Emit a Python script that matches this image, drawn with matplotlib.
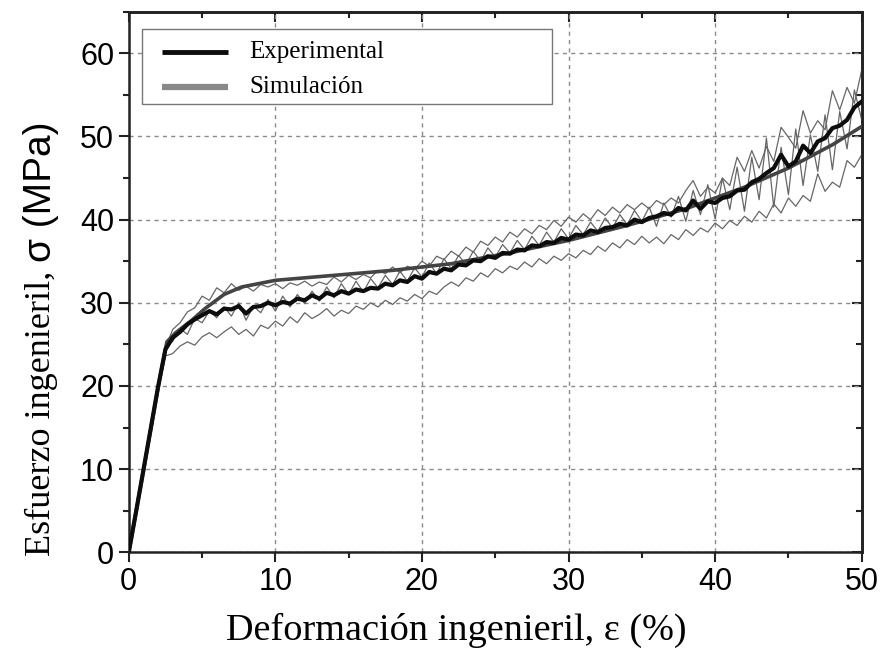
import matplotlib
matplotlib.use("Agg")
import matplotlib.pyplot as plt
from matplotlib.patches import Rectangle

# strain grid (%) for the measured curves
strain = [0.0, 0.5, 1.0, 1.5, 2.0, 2.5, 3.0, 3.5, 4.0, 4.5,
          5.0, 5.5, 6.0, 6.5, 7.0, 7.5, 8.0, 8.5, 9.0, 9.5,
          10.0, 10.5, 11.0, 11.5, 12.0, 12.5, 13.0, 13.5, 14.0, 14.5,
          15.0, 15.5, 16.0, 16.5, 17.0, 17.5, 18.0, 18.5, 19.0, 19.5,
          20.0, 20.5, 21.0, 21.5, 22.0, 22.5, 23.0, 23.5, 24.0, 24.5,
          25.0, 25.5, 26.0, 26.5, 27.0, 27.5, 28.0, 28.5, 29.0, 29.5,
          30.0, 30.5, 31.0, 31.5, 32.0, 32.5, 33.0, 33.5, 34.0, 34.5,
          35.0, 35.5, 36.0, 36.5, 37.0, 37.5, 38.0, 38.5, 39.0, 39.5,
          40.0, 40.5, 41.0, 41.5, 42.0, 42.5, 43.0, 43.5, 44.0, 44.5,
          45.0, 45.5, 46.0, 46.5, 47.0, 47.5, 48.0, 48.5, 49.0, 49.5,
          50.0]

# mean experimental curve (MPa)
exp_mean = [0.0, 4.9, 9.9, 14.9, 19.9, 24.4, 25.8, 26.5, 27.4, 28.0,
            28.5, 29.0, 28.6, 29.3, 29.2, 29.6, 28.7, 29.5, 29.6, 30.0,
            29.7, 30.1, 29.9, 30.5, 30.3, 30.9, 30.5, 31.2, 30.9, 31.4,
            31.1, 31.6, 31.4, 31.8, 31.7, 32.3, 32.1, 32.7, 32.5, 33.2,
            32.9, 33.7, 33.5, 34.1, 33.9, 34.6, 34.5, 35.1, 35.0, 35.6,
            35.4, 36.0, 35.9, 36.4, 36.3, 36.9, 36.8, 37.3, 37.2, 37.8,
            37.6, 38.2, 38.1, 38.7, 38.5, 39.0, 39.1, 39.5, 39.3, 40.0,
            39.7, 40.2, 40.4, 40.8, 40.6, 41.4, 41.1, 42.3, 41.3, 42.2,
            42.0, 42.6, 42.8, 43.5, 43.6, 44.5, 44.9, 45.6, 46.2, 47.8,
            46.4, 47.0, 48.9, 48.0, 49.4, 49.8, 51.0, 51.3, 52.0, 53.5,
            54.2]

# individual specimens (thin lines)
spec_a = [0.0, 4.8, 9.8, 14.8, 19.8, 24.6, 26.8, 27.6, 28.9, 29.4,
          30.8, 30.3, 31.8, 31.2, 32.3, 31.5, 32.0, 31.4, 32.2, 31.9,
          32.3, 31.7, 32.4, 32.1, 32.6, 32.0, 32.5, 32.2, 33.1, 32.5,
          33.3, 32.8, 33.4, 33.0, 33.9, 33.5, 34.3, 33.6, 34.4, 34.0,
          35.0, 34.4, 35.6, 35.2, 36.2, 35.6, 36.7, 36.1, 37.4, 36.9,
          37.9, 37.3, 38.5, 37.9, 38.9, 38.3, 39.3, 38.8, 39.9, 39.2,
          40.3, 39.7, 40.7, 40.0, 41.2, 40.5, 41.5, 40.8, 41.8, 41.2,
          42.0, 41.3, 42.3, 41.8, 42.6, 42.0, 43.5, 44.7, 42.8, 43.9,
          43.2, 45.0, 44.1, 47.5, 45.8, 48.3, 46.2, 48.8, 47.0, 51.1,
          49.9, 48.6, 53.1, 50.4, 51.9, 50.8, 55.5, 53.2, 55.9, 54.0,
          58.0]

spec_b = [0.0, 4.8, 9.7, 14.6, 19.5, 23.6, 23.9, 24.8, 25.3, 24.9,
          25.9, 26.4, 25.8, 26.5, 27.1, 26.2, 26.8, 26.0, 27.3, 26.9,
          27.8, 27.2, 28.3, 27.6, 28.8, 28.1, 28.6, 29.3, 28.4, 29.1,
          28.7, 29.6, 29.2, 30.0, 29.5, 30.3, 29.8, 30.6, 30.2, 31.0,
          30.5, 31.4, 31.0, 31.9, 32.5, 32.0, 33.0, 32.6, 33.6, 33.1,
          34.1, 33.6, 34.4, 34.0, 34.9, 34.3, 35.3, 34.7, 35.6, 35.1,
          35.9, 35.4, 36.3, 35.8, 36.8, 36.2, 37.2, 36.6, 37.6, 37.0,
          38.0, 37.2, 37.9, 37.1, 38.2, 37.6, 38.8, 38.1, 39.0, 38.5,
          39.6, 38.9, 39.9, 39.3, 40.4, 39.7, 41.0, 40.2, 41.9, 40.8,
          42.6, 41.6, 42.9, 42.2, 45.5, 43.4, 44.5, 43.9, 47.1, 46.3,
          47.8]

spec_c = [0.0, 5.0, 10.0, 15.1, 20.1, 24.9, 25.4, 26.9, 26.2, 28.1,
          27.6, 29.0, 28.2, 29.5, 28.4, 30.0, 27.9, 29.6, 28.8, 30.4,
          29.0, 30.8, 29.5, 31.0, 29.9, 31.4, 30.2, 31.9, 30.6, 32.3,
          31.0, 32.6, 31.3, 32.9, 31.8, 33.3, 32.2, 33.8, 32.6, 34.2,
          33.1, 34.8, 33.5, 35.3, 34.1, 35.7, 34.6, 36.2, 35.0, 36.6,
          35.5, 37.0, 36.0, 37.5, 36.4, 38.0, 36.9, 38.5, 37.3, 38.9,
          37.7, 39.3, 38.2, 39.7, 38.6, 40.2, 39.0, 40.6, 39.4, 41.1,
          39.8, 41.5, 39.2, 42.0, 40.3, 42.8, 39.8, 43.5, 40.6, 44.2,
          40.1, 45.0, 41.2, 46.3, 41.0, 47.5, 42.4, 49.8, 41.5, 48.7,
          43.0, 50.9, 44.1, 50.2, 45.8, 52.6, 46.0, 53.0, 48.5, 55.6,
          52.0]

# simulation curve
sim_strain = [0.0, 1.0, 2.0, 2.6, 3.2, 4.3, 5.2, 6.5, 7.7, 10.0,
              14.0, 18.0, 22.0, 26.0, 30.0, 34.0, 38.0, 42.0, 45.0, 48.0, 50.0]
sim_stress = [0.0, 9.8, 19.8, 25.3, 26.4, 27.9, 29.3, 31.0, 31.9, 32.7,
              33.3, 33.9, 34.7, 36.0, 37.5, 39.3, 41.3, 43.9, 46.2, 49.0, 51.2]

legend_labels = ["Experimental", "Simulación"]
legend_colors = ["#0d0d0d", "#888888"]

serif = ["Liberation Serif", "DejaVu Serif"]
sans = ["Liberation Sans", "DejaVu Sans"]

fig = plt.figure(figsize=(8.82, 6.52), dpi=100)
ax = fig.add_axes([0.146, 0.153, 0.831, 0.829])

for s in (spec_a, spec_b, spec_c):
    ax.plot(strain, s, color="#666666", lw=0.9, zorder=2)
ax.plot(sim_strain, sim_stress, color="#444444", lw=2.6, zorder=3)
ax.plot(strain, exp_mean, color="#0d0d0d", lw=3.0, zorder=4)

ax.set_xlim(0, 50)
ax.set_ylim(0, 65)
ax.set_xticks([0, 10, 20, 30, 40, 50])
ax.set_yticks([0, 10, 20, 30, 40, 50, 60])
ax.set_xticks([5, 15, 25, 35, 45], minor=True)
ax.set_yticks([5, 15, 25, 35, 45, 55, 65], minor=True)
ax.grid(True, which="major", color="#8a8a8a", lw=1.0, ls=(0, (3, 3)))
ax.set_axisbelow(True)

ax.tick_params(which="both", direction="out", width=1.5, colors="#222",
               labelsize=22)
ax.tick_params(which="major", length=7)
ax.tick_params(which="minor", length=4)
for lab in ax.get_xticklabels() + ax.get_yticklabels():
    lab.set_family(sans)
    lab.set_color("black")

# inward ticks on top and right
top = ax.secondary_xaxis("top")
top.set_xticks([0, 10, 20, 30, 40, 50])
top.set_xticks([5, 15, 25, 35, 45], minor=True)
top.tick_params(which="both", direction="in", labeltop=False, width=1.5, colors="#222")
top.tick_params(which="major", length=7)
top.tick_params(which="minor", length=4)
right = ax.secondary_yaxis("right")
right.set_yticks([0, 10, 20, 30, 40, 50, 60])
right.set_yticks([5, 15, 25, 35, 45, 55, 65], minor=True)
right.tick_params(which="both", direction="in", labelright=False, width=1.5, colors="#222")
right.tick_params(which="major", length=7)
right.tick_params(which="minor", length=4)

for sp in ax.spines.values():
    sp.set_linewidth(1.8)
    sp.set_color("#222")
top.spines["top"].set_linewidth(1.8)
right.spines["right"].set_linewidth(1.8)

# legend box drawn by hand so the handles sit where the original has them
ax.add_patch(Rectangle((0.018, 0.83), 0.559, 0.1385, transform=ax.transAxes,
                       facecolor="white", edgecolor="#777", lw=1.0, zorder=5))
for i, (lab, col) in enumerate(zip(legend_labels, legend_colors)):
    yy = 0.925 - i * 0.065
    ax.plot([0.045, 0.135], [yy, yy], transform=ax.transAxes, color=col,
            lw=3.5 if i == 0 else 4.5, solid_capstyle="butt", zorder=6)
    ax.text(0.165, yy, lab, transform=ax.transAxes, family=serif, fontsize=18,
            va="center", ha="left", zorder=6)

# axis labels
fig.text(456 / 882, 1 - 630 / 652, "Deformación ingenieril, ε (%)",
         family=serif, fontsize=27.5, ha="center", va="center")

t1 = fig.text(41 / 882, 1 - 556 / 652, "Esfuerzo ingenieril, ",
              family=serif, fontsize=26, rotation=90, ha="center", va="bottom")
fig.canvas.draw()
bb = t1.get_window_extent()
fig.text(41 / 882, bb.y1 / fig.bbox.height, "σ (MPa)",
         family=sans, fontsize=28, rotation=90, ha="center", va="bottom")

fig.savefig("out.png", dpi=100)
